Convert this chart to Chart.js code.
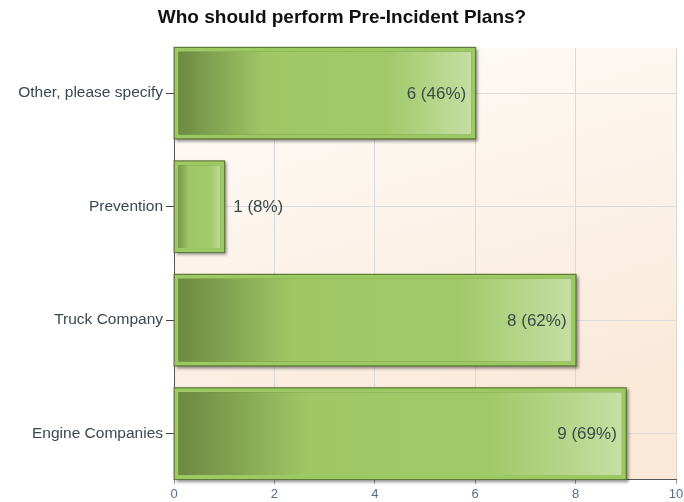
<!DOCTYPE html>
<html>
<head>
<meta charset="utf-8">
<title>Who should perform Pre-Incident Plans?</title>
<script src="https://cdn.jsdelivr.net/npm/chart.js@4.4.1/dist/chart.umd.min.js"></script>
<style>
  html, body { margin: 0; padding: 0; background: #fff; }
  #wrap { width: 684px; height: 502px; position: relative; }
</style>
</head>
<body>
<div id="wrap"><canvas id="pre-incident-plans"></canvas></div>
<script>
var labels = ["Other, please specify", "Prevention", "Truck Company", "Engine Companies"];
var counts = [6, 1, 8, 9];
var percents = [46, 8, 62, 69];
var xTicks = [0, 2, 4, 6, 8, 10];

Chart.defaults.font.family = "'Liberation Sans', Arial, sans-serif";

// warm gradient behind the plot area
var plotBackground = {
  id: "plotBackground",
  beforeDraw: function (chart) {
    var a = chart.chartArea, c = chart.ctx;
    var g = c.createLinearGradient(a.left, a.top, a.left + 120, a.bottom);
    g.addColorStop(0, "#fefdfb");
    g.addColorStop(1, "#fae9d9");
    c.save();
    c.fillStyle = g;
    c.fillRect(a.left, a.top, a.right - a.left, a.bottom - a.top);
    c.restore();
  }
};

// dark outline + drop shadow under each bar
var barShadow = {
  id: "barShadow",
  beforeDatasetsDraw: function (chart) {
    var c = chart.ctx;
    chart.getDatasetMeta(0).data.forEach(function (el) {
      var top = el.y - el.height / 2;
      c.save();
      c.shadowColor = "rgba(0,0,0,0.45)";
      c.shadowBlur = 3;
      c.shadowOffsetX = 2;
      c.shadowOffsetY = 2;
      c.fillStyle = "#5d7839";
      c.fillRect(el.base - 1, top - 1, el.x - el.base + 2, el.height + 2);
      c.restore();
    });
  }
};

// "n (p%)" labels at the end of each bar
var valueLabels = {
  id: "valueLabels",
  afterDatasetsDraw: function (chart) {
    var c = chart.ctx;
    c.save();
    c.font = "17px 'Liberation Sans', Arial, sans-serif";
    c.fillStyle = "#3b4a4a";
    c.textBaseline = "middle";
    chart.getDatasetMeta(0).data.forEach(function (el, i) {
      var text = counts[i] + " (" + percents[i] + "%)";
      var w = c.measureText(text).width;
      if (el.x - el.base > w + 24) {
        c.textAlign = "right";
        c.fillText(text, el.x - 9, el.y + 1);
      } else {
        c.textAlign = "left";
        c.fillText(text, el.x + 9, el.y + 1);
      }
    });
    c.restore();
  }
};

var ctx = document.getElementById("pre-incident-plans");
new Chart(ctx, {
  type: "bar",
  data: {
    datasets: [
      {
        data: counts.map(function (v, i) { return { x: v, y: i }; }),
        backgroundColor: function (context) {
          var chart = context.chart;
          if (context.type !== "data" || !chart.chartArea) return "#9fc865";
          var x = chart.scales.x;
          var x0 = x.getPixelForValue(0);
          var x1 = x.getPixelForValue(counts[context.dataIndex]);
          var g = chart.ctx.createLinearGradient(x0, 0, x1, 0);
          g.addColorStop(0, "#6a8741");
          g.addColorStop(0.3, "#9fc865");
          g.addColorStop(0.7, "#a0c968");
          g.addColorStop(1, "#c6e0a5");
          return g;
        },
        borderColor: "#9cc962",
        borderWidth: 4,
        borderSkipped: false,
        categoryPercentage: 1,
        barPercentage: 0.8
      }
    ]
  },
  options: {
    indexAxis: "y",
    responsive: true,
    maintainAspectRatio: false,
    animation: false,
    layout: { padding: 0 },
    plugins: {
      legend: { display: false },
      tooltip: { enabled: false },
      title: {
        display: true,
        text: "Who should perform Pre-Incident Plans?",
        color: "#111",
        font: { size: 19, weight: "bold" },
        padding: { top: 6, bottom: 19 }
      }
    },
    scales: {
      x: {
        type: "linear",
        min: 0,
        max: 10,
        afterBuildTicks: function (s) {
          s.ticks = xTicks.map(function (v) { return { value: v }; });
        },
        afterFit: function (s) {
          s.height = 23;
          s.paddingRight = 8;
        },
        grid: { color: "#d9d9d9", tickColor: "#999", tickLength: 5 },
        border: { display: true, color: "#555" },
        ticks: { color: "#5a6d88", font: { size: 13 }, padding: 3 }
      },
      y: {
        type: "linear",
        reverse: true,
        offset: false,
        bounds: "data",
        min: -0.4,
        max: 3.4,
        afterBuildTicks: function (s) {
          s.ticks = labels.map(function (l, i) { return { value: i }; });
        },
        afterFit: function (s) { s.width = 174; },
        grid: { offset: false, color: "#dcdcdc", tickColor: "#444", tickLength: 8 },
        border: { display: true, color: "#555" },
        ticks: {
          color: "#3c4752",
          font: { size: 15.5 },
          padding: 3,
          callback: function (v) { return labels[v]; }
        }
      }
    }
  },
  plugins: [plotBackground, barShadow, valueLabels]
});
</script>
</body>
</html>
